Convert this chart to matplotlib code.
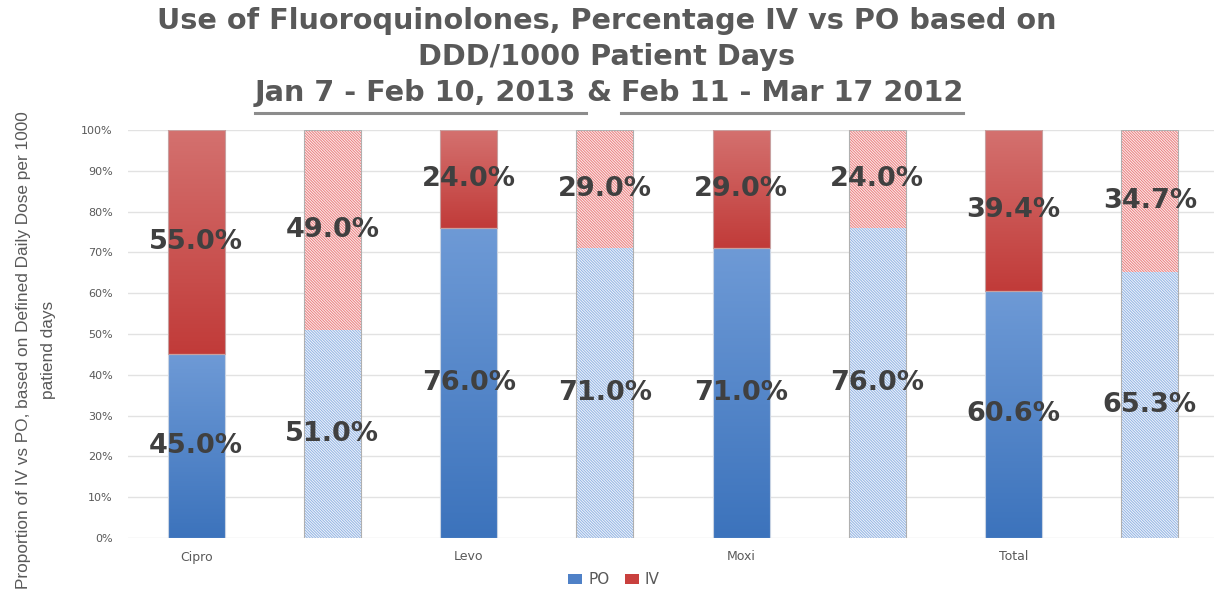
import numpy as np
import matplotlib
matplotlib.use("Agg")
import matplotlib.pyplot as plt
import matplotlib.colors as mcolors
from matplotlib.patches import Patch
from matplotlib.lines import Line2D

# --- DONNEES ---
drugs = ["Cipro", "Levo", "Moxi", "Total"]
po_2013 = [45.0, 76.0, 71.0, 60.6]
iv_2013 = [55.0, 24.0, 29.0, 39.4]
po_2012 = [51.0, 71.0, 76.0, 65.3]
iv_2012 = [49.0, 29.0, 24.0, 34.7]
y_ticks = [0, 10, 20, 30, 40, 50, 60, 70, 80, 90, 100]

title_l1 = "Use of Fluoroquinolones, Percentage IV vs PO based on"
title_l2 = "DDD/1000 Patient Days"
period_2013 = "Jan 7 - Feb 10, 2013"
period_2012 = "Feb 11 - Mar 17 2012"
y_label = "Proportion of IV vs PO, based on Defined Daily Dose per 1000\npatiend days"

# --- STYLE ---
W, H = 1214, 591
GRAY = "#595959"
LABEL = "#404040"
plt.rcParams["hatch.linewidth"] = 0.7


def fill_gradient(ax, rect, top, bottom):
    # degrade vertical dans la barre (facon Excel)
    x, y = rect.get_x(), rect.get_y()
    w, h = rect.get_width(), rect.get_height()
    c_top = np.array(mcolors.to_rgb(top))
    c_bot = np.array(mcolors.to_rgb(bottom))
    t = np.linspace(0, 1, 128)[:, None]
    img = (c_bot + (c_top - c_bot) * t).reshape(128, 1, 3)
    im = ax.imshow(img, extent=[x, x + w, y, y + h], origin="lower",
                   aspect="auto", zorder=2.1, interpolation="bilinear")
    im.set_clip_path(rect)


fig = plt.figure(figsize=(W / 100, H / 100), dpi=100)
ax = fig.add_axes([128 / W, 53 / H, 1090 / W, 408 / H])

bw = 0.42
x13 = np.arange(len(drugs)) * 2
x12 = x13 + 1

# 2013 : barres pleines avec degrade
po_bars = ax.bar(x13, po_2013, bw, color="#4f81c7", edgecolor="none", zorder=2)
iv_bars = ax.bar(x13, iv_2013, bw, bottom=po_2013, color="#c9403e",
                 edgecolor="none", zorder=2)
for r in po_bars:
    fill_gradient(ax, r, "#6e9ad6", "#3c73bc")
for r in iv_bars:
    fill_gradient(ax, r, "#d4716f", "#c13b39")
ax.bar(x13, po_2013, bw, fill=False, edgecolor="#c8d3e3", linewidth=0.8, zorder=2.2)
ax.bar(x13, iv_2013, bw, bottom=po_2013, fill=False, edgecolor="#c8a0a0",
       linewidth=0.8, zorder=2.2)

# 2012 : barres hachurees (trame fine)
hatch = "\\" * 12
ax.bar(x12, po_2012, bw, facecolor="#f0f4fb", edgecolor="#93b5e4",
       hatch=hatch, linewidth=0, zorder=2)
ax.bar(x12, iv_2012, bw, bottom=po_2012, facecolor="#fcecec", edgecolor="#eb8080",
       hatch=hatch, linewidth=0, zorder=2)
ax.bar(x12, [100] * len(drugs), bw, fill=False, edgecolor="#b0b0b0",
       linewidth=0.8, zorder=2.2)

# etiquettes des valeurs
for xs, po, iv in [(x13, po_2013, iv_2013), (x12, po_2012, iv_2012)]:
    for x, p, v in zip(xs, po, iv):
        ax.text(x, p / 2, f"{p:.1f}%", ha="center", va="center", fontsize=19.5,
                weight="bold", color=LABEL, zorder=5)
        ax.text(x, p + v / 2, f"{v:.1f}%", ha="center", va="center", fontsize=19.5,
                weight="bold", color=LABEL, zorder=5)

ax.set_xlim(-0.5, 7.5)
ax.set_ylim(0, 100)
ax.set_yticks(y_ticks)
ax.set_yticklabels([f"{v}%" for v in y_ticks], fontsize=8, color=GRAY)
ax.set_xticks(x13)
ax.set_xticklabels(drugs, fontsize=9, color=GRAY)
ax.tick_params(axis="y", length=0, pad=11)
ax.tick_params(axis="x", length=0, pad=9)
for s in ax.spines.values():
    s.set_visible(False)
ax.yaxis.grid(True, color="#e2e2e2", linewidth=1)
ax.set_axisbelow(True)

fig.legend(handles=[Patch(facecolor="#4f81c7", label="PO"),
                    Patch(facecolor="#c9403e", label="IV")],
           loc="center", bbox_to_anchor=(614 / W, 1 - 580 / H), ncol=2,
           frameon=False, fontsize=11, handlelength=0.9, handleheight=0.6,
           columnspacing=1.0, handletextpad=0.4, labelcolor=GRAY)

# --- TITRE et axe y (ajustes a la largeur) ---
fig.canvas.draw()
rend = fig.canvas.get_renderer()


def width_px(s, size, family="DejaVu Sans", weight="bold"):
    t = fig.text(0, 0, s, fontsize=size, weight=weight, family=family)
    w = t.get_window_extent(rend).width
    t.remove()
    return w


ysize = 12 * 478 / width_px(y_label.split("\n")[0], 12, "Liberation Sans", "normal")
fig.text(36 / W, 1 - 350 / H, y_label, rotation=90, ha="center", va="center",
         multialignment="center", family="Liberation Sans",
         fontsize=ysize, color=GRAY, linespacing=1.75)

tsize = 20 * 900 / width_px(title_l1, 20)
tkw = dict(fontsize=tsize, weight="bold", family="DejaVu Sans", color=GRAY,
           va="baseline")
fig.text(0.5, 1 - 29 / H, title_l1, ha="center", **tkw)
fig.text(0.5, 1 - 65 / H, title_l2, ha="center", **tkw)

gap = width_px("a a", tsize) - width_px("aa", tsize)
w_a = width_px(period_2013, tsize)
w_amp = width_px("&", tsize)
w_b = width_px(period_2012, tsize)
total = w_a + gap + w_amp + gap + w_b
x0 = 609 - total / 2
yb = 1 - 101 / H
fig.text(x0 / W, yb, period_2013, ha="left", **tkw)
fig.text((x0 + w_a + gap) / W, yb, "&", ha="left", **tkw)
x2 = x0 + w_a + gap + w_amp + gap
fig.text(x2 / W, yb, period_2012, ha="left", **tkw)
yu = 1 - 113 / H
fig.add_artist(Line2D([x0 / W, (x0 + w_a + gap) / W], [yu, yu], color="#8c8c8c",
                      linewidth=2.2))
fig.add_artist(Line2D([x2 / W, (x2 + w_b) / W], [yu, yu], color="#8c8c8c",
                      linewidth=2.2))

fig.savefig("out.png", dpi=100)
